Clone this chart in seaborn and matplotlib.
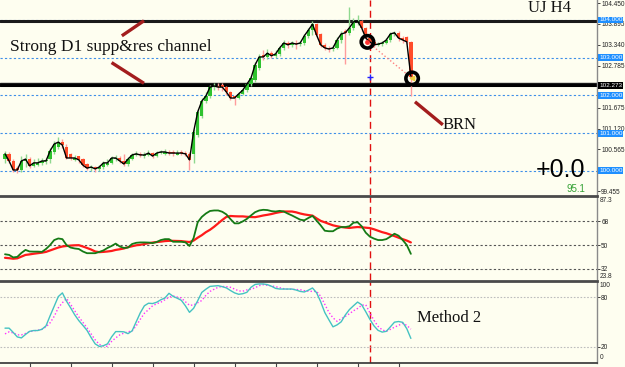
import matplotlib
matplotlib.use("Agg")
import matplotlib.pyplot as plt
import matplotlib.transforms as mtransforms
import numpy as np
import seaborn as sns

sns.set_theme(style="white")
plt.rcParams['font.family'] = ['Liberation Sans', 'DejaVu Sans']

# ---- data (one entry per bar) ----
opens = [100.30, 100.45, 100.26, 100.08, 100.02, 100.26, 100.31, 100.13, 100.16, 100.21,
         100.26, 100.30, 100.50, 100.62, 100.76, 100.62, 100.44, 100.28, 100.38, 100.30,
         100.18, 100.07, 100.10, 100.05, 100.10, 100.16, 100.21, 100.30, 100.34, 100.26,
         100.18, 100.31, 100.42, 100.45, 100.38, 100.42, 100.47, 100.39, 100.47, 100.45,
         100.50, 100.51, 100.43, 100.51, 100.47, 100.45, 100.45, 100.95, 101.45, 101.85,
         101.98, 102.22, 102.25, 102.28, 102.22, 102.09, 101.98, 101.93, 102.04, 102.14,
         102.30, 102.40, 102.72, 103.08, 103.02, 103.12, 103.05, 103.10, 103.26, 103.39,
         103.34, 103.39, 103.36, 103.39, 103.58, 103.73, 103.90, 103.62, 103.34, 103.26,
         103.23, 103.26, 103.47, 103.72, 103.66, 103.79, 103.95, 103.97, 103.79, 103.52,
         103.42, 103.34, 103.36, 103.39, 103.47, 103.63, 103.66, 103.52, 103.55, 103.42]
highs = [100.52, 100.49, 100.30, 100.12, 100.40, 100.45, 100.36, 100.30, 100.33, 100.35,
         100.34, 100.60, 100.78, 100.90, 100.85, 100.72, 100.48, 100.42, 100.40, 100.33,
         100.20, 100.16, 100.14, 100.15, 100.26, 100.30, 100.40, 100.42, 100.38, 100.45,
         100.36, 100.48, 100.52, 100.50, 100.50, 100.55, 100.50, 100.52, 100.56, 100.58,
         100.55, 100.56, 100.55, 100.56, 100.52, 100.50, 101.10, 101.65, 101.92, 102.08,
         102.28, 102.34, 102.32, 102.33, 102.26, 102.12, 102.02, 102.10, 102.20, 102.36,
         102.52, 102.88, 103.10, 103.20, 103.22, 103.18, 103.20, 103.32, 103.48, 103.45,
         103.44, 103.46, 103.45, 103.64, 103.80, 103.98, 103.92, 103.66, 103.38, 103.32,
         103.34, 103.55, 103.70, 103.76, 104.34, 104.05, 104.13, 104.00, 103.82, 103.56,
         103.46, 103.42, 103.45, 103.52, 103.68, 103.72, 103.70, 103.58, 103.58, 103.45]
lows = [100.22, 100.20, 99.97, 99.95, 99.98, 100.10, 100.08, 100.10, 100.12, 100.15,
        100.18, 100.22, 100.45, 100.58, 100.60, 100.30, 100.28, 100.25, 100.22, 100.10,
        100.02, 100.00, 99.98, 100.00, 100.06, 100.12, 100.18, 100.26, 100.20, 100.12,
        100.14, 100.28, 100.38, 100.36, 100.34, 100.40, 100.33, 100.36, 100.44, 100.42,
        100.42, 100.40, 100.41, 100.42, 100.38, 100.02, 100.20, 100.90, 101.40, 101.80,
        101.92, 102.15, 102.14, 102.12, 102.02, 101.88, 101.75, 101.90, 102.00, 102.10,
        102.26, 102.35, 102.68, 102.95, 102.96, 102.98, 103.00, 103.05, 103.20, 103.25,
        103.28, 103.22, 103.30, 103.34, 103.52, 103.60, 103.55, 103.28, 103.20, 103.16,
        103.18, 103.22, 103.40, 102.82, 103.60, 103.74, 103.88, 103.70, 103.45, 103.35,
        103.28, 103.30, 103.32, 103.35, 103.42, 103.58, 103.45, 103.40, 103.36, 101.99]
closes = [100.45, 100.26, 100.02, 100.02, 100.26, 100.31, 100.13, 100.21, 100.21, 100.26,
          100.26, 100.53, 100.71, 100.76, 100.68, 100.34, 100.34, 100.34, 100.29, 100.15,
          100.07, 100.10, 100.05, 100.10, 100.21, 100.21, 100.34, 100.34, 100.26, 100.18,
          100.31, 100.42, 100.45, 100.42, 100.42, 100.47, 100.39, 100.47, 100.50, 100.50,
          100.47, 100.47, 100.47, 100.47, 100.45, 100.29, 101.03, 101.56, 101.85, 101.98,
          102.22, 102.25, 102.22, 102.22, 102.09, 101.93, 101.93, 102.04, 102.14, 102.30,
          102.46, 102.81, 103.02, 103.02, 103.12, 103.05, 103.10, 103.26, 103.39, 103.34,
          103.39, 103.36, 103.39, 103.58, 103.73, 103.89, 103.60, 103.34, 103.26, 103.23,
          103.26, 103.47, 103.63, 103.66, 103.79, 103.95, 103.97, 103.79, 103.52, 103.42,
          103.34, 103.36, 103.39, 103.47, 103.63, 103.66, 103.52, 103.47, 103.42, 102.49]

rsi = [43.0, 42.5, 40.6, 41.0, 44.0, 46.3, 45.1, 45.0, 45.0, 44.8,
       47.0, 50.0, 53.8, 55.0, 54.5, 50.0, 48.1, 47.4, 47.0, 45.1,
       43.8, 43.8, 43.8, 44.8, 45.9, 47.8, 49.3, 51.1, 48.9, 47.8,
       48.1, 50.8, 51.7, 52.0, 52.0, 51.9, 51.5, 52.3, 53.8, 54.5,
       54.5, 52.5, 52.5, 52.5, 52.1, 49.3, 55.3, 67.3, 71.4, 74.0,
       75.9, 76.3, 76.3, 75.3, 73.3, 69.7, 66.5, 66.5, 68.0, 69.9,
       72.5, 75.0, 76.3, 76.8, 76.6, 75.8, 75.5, 76.0, 75.5, 73.9,
       72.5, 70.9, 69.3, 68.8, 70.6, 72.2, 68.6, 65.0, 60.9, 60.5,
       60.5, 62.5, 63.7, 63.7, 64.3, 67.0, 67.3, 64.3, 59.4, 56.4,
       54.9, 53.8, 53.8, 54.5, 56.4, 58.6, 57.1, 53.8, 50.0, 43.3]
rsi_ma = [40.3, 40.0, 39.6, 39.9, 41.2, 42.5, 42.9, 43.4, 43.8, 44.2,
          44.8, 45.9, 47.0, 48.1, 48.9, 49.3, 49.6, 49.8, 49.9, 48.9,
          47.8, 46.6, 45.1, 44.6, 44.8, 45.1, 45.5, 46.3, 46.8, 47.4,
          48.4, 49.1, 49.8, 50.2, 50.8, 51.4, 51.9, 52.3, 52.6, 53.0,
          53.2, 53.2, 53.1, 53.0, 52.6, 52.3, 53.4, 55.6, 57.5, 59.8,
          61.6, 63.9, 66.5, 69.1, 71.4, 72.1, 71.9, 71.8, 71.8, 71.5,
          71.3, 71.2, 71.8, 72.5, 73.0, 73.6, 74.4, 75.0, 75.5, 75.5,
          75.5, 74.9, 74.0, 73.3, 72.8, 72.4, 70.3, 68.4, 67.3, 66.1,
          65.0, 64.3, 63.7, 63.3, 63.0, 63.4, 63.7, 63.5, 63.2, 62.9,
          62.0, 60.9, 59.8, 59.0, 57.9, 56.8, 55.6, 54.5, 53.4, 52.0]

stoch = [42.5, 42.5, 37.3, 31.8, 30.6, 34.8, 38.6, 39.6, 39.6, 41.1,
         45.3, 57.6, 69.2, 81.0, 85.5, 75.4, 67.3, 58.8, 51.7, 45.9,
         39.8, 31.1, 23.3, 20.2, 21.1, 23.3, 31.8, 38.3, 38.3, 38.0,
         35.8, 39.2, 50.2, 61.2, 69.8, 72.9, 72.5, 74.1, 77.1, 79.2,
         85.0, 81.3, 79.0, 76.5, 69.8, 61.8, 66.7, 75.9, 86.1, 90.0,
         93.4, 93.9, 94.3, 93.1, 91.6, 88.4, 85.5, 83.8, 84.5, 86.2,
         92.3, 95.8, 96.4, 96.4, 95.6, 93.6, 91.0, 90.2, 90.2, 90.2,
         90.2, 89.0, 87.3, 86.6, 88.8, 91.5, 85.7, 74.7, 61.6, 52.7,
         44.1, 46.5, 50.2, 58.5, 65.1, 69.8, 74.3, 71.0, 62.5, 53.3,
         45.3, 39.8, 37.7, 38.6, 44.1, 49.8, 50.6, 49.6, 41.9, 30.0]
stoch_sig = [35.5, 38.0, 36.7, 34.3, 34.3, 36.0, 38.2, 39.2, 40.0, 41.0,
             44.1, 49.0, 56.9, 67.3, 73.5, 78.6, 71.6, 63.7, 56.3, 49.6,
             42.9, 35.5, 28.2, 22.7, 20.8, 20.3, 26.3, 30.6, 34.3, 36.5,
             38.0, 39.2, 45.3, 53.3, 60.6, 65.1, 69.8, 72.2, 74.1, 77.1,
             80.2, 81.8, 80.4, 79.3, 74.7, 70.4, 70.7, 73.5, 76.2, 82.5,
             87.3, 89.9, 92.4, 93.3, 93.1, 92.3, 90.2, 87.9, 87.6, 89.1,
             89.9, 91.8, 94.3, 95.5, 94.7, 94.0, 93.1, 91.8, 90.6, 90.0,
             89.9, 89.6, 89.4, 88.2, 87.6, 87.3, 87.3, 81.4, 71.6, 61.8,
             55.1, 50.8, 53.9, 56.8, 60.0, 63.7, 66.5, 70.4, 71.0, 61.2,
             52.0, 44.7, 40.4, 38.6, 41.0, 43.7, 45.9, 48.4, 45.9, 41.3]

round_levels = [104.0, 103.0, 102.0, 101.0, 100.0]
channel_levels = [103.965, 102.34, 102.273]
price_ticks = [104.450, 103.895, 103.340, 102.785, 101.675, 101.120, 100.565, 99.455]
current_price = 102.273
rsi_levels = [68, 50, 32]
stoch_levels = [80, 20]
cursor_bar = 89
swing_bars = [88.4, 99.3]
swing_prices = [103.42, 102.45]
arrow_top = ([28.5, 33.9], [103.58, 103.98])
arrow_bot = ([26.0, 33.9], [102.87, 102.32])
arrow_brn = ([100.0, 106.8], [101.83, 101.22])
time_ticks = [6, 16, 26, 36, 46, 56, 66, 76, 86, 96]

BG = '#fefef0'
UP, DN = '#2fc22f', '#ff4c2a'
WICK_UP, WICK_DN = '#8fd88f', '#ff9c9c'
ARROW = '#a31d1d'

W, H = 625, 367
fig = plt.figure(figsize=(W / 100, H / 100), dpi=100, facecolor=BG)
right = 597 / W
ax1 = fig.add_axes([0, 1 - 195 / H, right, 195 / H])
ax2 = fig.add_axes([0, 1 - 279.5 / H, right, 83.5 / H])
ax3 = fig.add_axes([0, 1 - 363 / H, right, 82 / H])
bars = np.arange(len(closes))
xlim = (-1.22, 144.4)

for ax in (ax1, ax2, ax3):
    ax.set_facecolor(BG)
    ax.set_xlim(*xlim)
    for s in ('left', 'top', 'bottom'):
        ax.spines[s].set_visible(False)
    ax.spines['right'].set_color('#8a8a8a')
    ax.spines['right'].set_linewidth(1)
    ax.yaxis.tick_right()
    ax.tick_params(axis='y', labelsize=4.7, length=2, pad=1, colors='#222222', width=0.6)
    ax.set_xticks([])
    ax.axvline(cursor_bar, color='#e01010', lw=1, dashes=(5, 3), zorder=1)

for ax in (ax2, ax3):
    ax.spines['top'].set_visible(True)
    ax.spines['top'].set_color('#4a4a4a')
    ax.spines['top'].set_linewidth(2)

# ---- main price panel ----
ax1.set_ylim(99.358, 104.53)
for lv in round_levels:
    ax1.axhline(lv, color='#3f8fe8', lw=0.8, dashes=(2, 2), zorder=1)
ax1.axhline(channel_levels[0], color='#1a1a1a', lw=2.2, zorder=2)
ax1.axhline(channel_levels[1], color='#1a1a1a', lw=1.0, zorder=2)
ax1.axhline(channel_levels[2], color='#000000', lw=2.2, zorder=2)

o = np.array(opens)
c = np.array(closes)
up = c >= o
ax1.vlines(bars, lows, highs, colors=np.where(up, WICK_UP, WICK_DN), lw=1, zorder=3)
ax1.bar(bars, np.maximum(np.abs(c - o), 0.02), bottom=np.minimum(o, c), width=0.8,
        color=np.where(up, UP, DN), lw=0, zorder=3)
sns.lineplot(x=bars, y=closes, ax=ax1, color='black', lw=1, zorder=4)

ax1.plot(swing_bars, swing_prices, color='#ff7f7f', lw=1, ls=':', zorder=4)
ax1.scatter(swing_bars, swing_prices, s=80, facecolors='none', edgecolors='black',
            linewidths=2.6, zorder=6)
ax1.scatter(swing_bars[:1], swing_prices[:1], s=6, color='#ff3030', zorder=7)
ax1.scatter(swing_bars[1:], swing_prices[1:], s=10, marker='<', color='#f0d040', zorder=7)
ax1.plot([cursor_bar], [closes[-1]], marker='+', color='#2020ff', ms=5, mew=1, zorder=5)

for xs, ys in (arrow_top, arrow_bot, arrow_brn):
    ax1.plot(xs, ys, color=ARROW, lw=2.4, solid_capstyle='butt', zorder=5)

serif = ['Liberation Serif', 'DejaVu Serif']
ax1.text(1.2, 103.28, 'Strong D1 supp&res channel', family=serif, fontsize=12.5,
         va='center', ha='left', color='#111111', zorder=8)
ax1.text(127.6, 104.32, 'UJ H4', family=serif, fontsize=12, va='center', ha='left', color='#111111')
ax1.text(106.8, 101.21, 'BRN', family=serif, fontsize=12, va='center', ha='left', color='#111111')
ax1.text(141.5, 100.03, '+0.0', fontsize=18, va='center', ha='right', color='black')
ax1.text(141.5, 99.52, '95.1', fontsize=7, va='center', ha='right', color='#33a033')

ax1.set_yticks(price_ticks)
ax1.set_yticklabels([f'{v:.3f}' for v in price_ticks])
trans = mtransforms.blended_transform_factory(ax1.transAxes, ax1.transData)
box_x = 1 + 2 / 597
for lv in round_levels:
    ax1.text(box_x, lv, f'{lv:.3f}', transform=trans, fontsize=4.6, color='white', va='center',
             ha='left', clip_on=False, zorder=10,
             bbox=dict(boxstyle='square,pad=0.15', fc='#1e8fff', ec='none'))
ax1.text(box_x, current_price, f'{current_price:.3f}', transform=trans, fontsize=4.6, color='white',
         va='center', ha='left', clip_on=False, zorder=10,
         bbox=dict(boxstyle='square,pad=0.15', fc='black', ec='none'))

# ---- oscillator 1 ----
ax2.set_ylim(23.8, 87.3)
for lv in rsi_levels:
    ax2.axhline(lv, color='#555555', lw=0.8, dashes=(2, 2), zorder=1)
sns.lineplot(x=bars, y=rsi_ma, ax=ax2, color='#ff1a1a', lw=1.6, zorder=3)
sns.lineplot(x=bars, y=rsi, ax=ax2, color='#157a15', lw=1.3, zorder=4)
ax2.set_yticks(rsi_levels)
ax2.set_yticklabels([str(v) for v in rsi_levels])
ax2.text(1.005, 0.985, '87.3', transform=ax2.transAxes, fontsize=4.7, va='top', ha='left', clip_on=False)
ax2.text(1.005, 0.0, '23.8', transform=ax2.transAxes, fontsize=4.7, va='bottom', ha='left', clip_on=False)

# ---- oscillator 2 ----
ax3.set_ylim(0, 100)
for lv in stoch_levels:
    ax3.axhline(lv, color='#bdbdbd', lw=0.8, dashes=(1.5, 1.5), zorder=1)
sns.lineplot(x=bars, y=stoch, ax=ax3, color='#45c2c2', lw=1.0, zorder=4)
sns.lineplot(x=bars, y=stoch_sig, ax=ax3, color='#ff33ff', lw=1.0, linestyle=(0, (1, 1.5)), zorder=3)
ax3.set_yticks(stoch_levels)
ax3.set_yticklabels([str(v) for v in stoch_levels])
ax3.text(1.005, 0.985, '100', transform=ax3.transAxes, fontsize=4.7, va='top', ha='left', clip_on=False)
ax3.text(1.005, 0.02, '0', transform=ax3.transAxes, fontsize=4.7, va='bottom', ha='left', clip_on=False)
ax3.text(100.5, 55, 'Method 2', family=serif, fontsize=12, va='center', ha='left', color='#111111')
ax3.spines['bottom'].set_visible(True)
ax3.spines['bottom'].set_color('#333333')
ax3.spines['bottom'].set_linewidth(1.2)
ax3.set_xticks(time_ticks)
ax3.set_xticklabels([])
ax3.tick_params(axis='x', length=4, width=0.8, colors='#444444', bottom=True, direction='out')

fig.savefig('out.png', dpi=100, facecolor=BG)
